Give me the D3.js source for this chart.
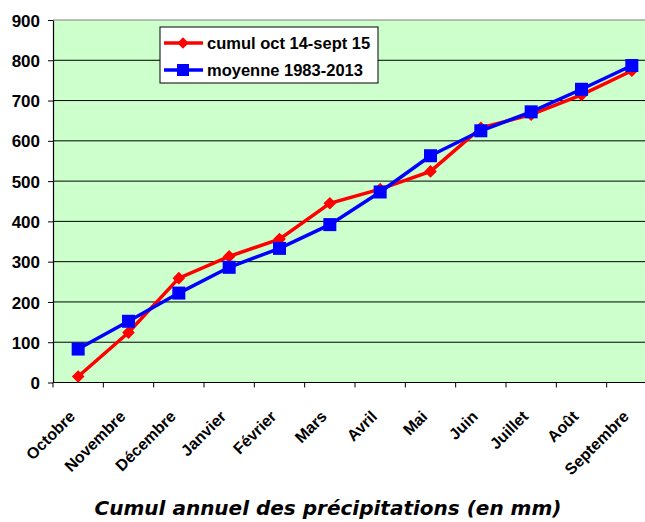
<!DOCTYPE html>
<html>
<head>
<meta charset="utf-8">
<script src="https://cdn.jsdelivr.net/npm/d3@7"></script>
<style>
  body { margin: 0; background: #fff; }
  svg { display: block; }
</style>
</head>
<body>
<div id="chart"></div>
<script>
// months of the hydrological year
const months = ["Octobre", "Novembre", "Décembre", "Janvier", "Février", "Mars",
  "Avril", "Mai", "Juin", "Juillet", "Août", "Septembre"];

// cumulative rainfall (mm)
const cumul = [15, 124, 259, 313, 356, 445, 480, 524, 632, 665, 714, 774];
const moyenne = [83, 152, 222, 286, 333, 392, 473, 563, 625, 672, 728, 787];

const yTicks = [0, 100, 200, 300, 400, 500, 600, 700, 800, 900];
const seriesNames = ["cumul oct 14-sept 15", "moyenne 1983-2013"];

const W = 645, H = 522;
const plot = { left: 53, right: 657, top: 20, bottom: 382.5 };
const labelFont = "'Liberation Sans', Arial, sans-serif";

const svg = d3.select("#chart").append("svg")
  .attr("width", W).attr("height", H);

const x = d3.scaleBand().domain(months).range([plot.left, plot.right]);
const y = d3.scaleLinear().domain([0, 900]).range([plot.bottom, plot.top]);

// plot background
svg.append("rect")
  .attr("x", plot.left).attr("y", plot.top)
  .attr("width", plot.right - plot.left).attr("height", plot.bottom - plot.top)
  .attr("fill", "#ccffcc");

// grid lines
svg.append("g")
  .selectAll("line")
  .data(yTicks.filter(d => d > 0 && d < 900))
  .join("line")
  .attr("x1", plot.left).attr("x2", plot.right)
  .attr("y1", d => y(d)).attr("y2", d => y(d))
  .attr("stroke", "#000").attr("stroke-width", 1);

// top border
svg.append("line")
  .attr("x1", plot.left).attr("x2", plot.right)
  .attr("y1", y(900)).attr("y2", y(900))
  .attr("stroke", "#808080").attr("stroke-width", 1.2);

// y axis
const yAxis = svg.append("g")
  .attr("transform", `translate(${plot.left},0)`)
  .call(d3.axisLeft(y).tickValues(yTicks).tickSize(5).tickSizeOuter(0));
yAxis.select(".domain").attr("stroke", "#000").attr("stroke-width", 1.2);
yAxis.selectAll(".tick line").attr("stroke", "#000");
yAxis.selectAll("text")
  .attr("font-family", labelFont)
  .attr("font-size", "17px").attr("font-weight", "bold")
  .attr("fill", "#000").attr("x", -13).attr("dy", "0.36em");

// x axis with ticks on band boundaries
const xAxis = svg.append("g")
  .attr("transform", `translate(0,${plot.bottom})`);
xAxis.append("line")
  .attr("x1", plot.left).attr("x2", plot.right)
  .attr("stroke", "#000").attr("stroke-width", 1.2);
xAxis.selectAll(".bt")
  .data(months)
  .join("line")
  .attr("class", "bt")
  .attr("x1", d => x(d)).attr("x2", d => x(d))
  .attr("y1", 0).attr("y2", 5)
  .attr("stroke", "#000");
xAxis.selectAll("text")
  .data(months)
  .join("text")
  .attr("transform", d => `translate(${x(d) + x.bandwidth() / 2 - 2},${35}) rotate(-45)`)
  .attr("text-anchor", "end")
  .attr("font-family", labelFont)
  .attr("font-size", "16px").attr("font-weight", "bold")
  .attr("fill", "#000")
  .text(d => d);

const cx = m => x(m) + x.bandwidth() / 2;
const line = d3.line().x((d, i) => cx(months[i])).y(d => y(d));

// red series
svg.append("path").datum(cumul)
  .attr("d", line).attr("fill", "none")
  .attr("stroke", "#ff0000").attr("stroke-width", 3.5);
svg.append("g").selectAll("path")
  .data(cumul)
  .join("path")
  .attr("d", d3.symbol().type(d3.symbolSquare).size(80))
  .attr("transform", (d, i) => `translate(${cx(months[i])},${y(d)}) rotate(45)`)
  .attr("fill", "#ff0000");

// blue series
svg.append("path").datum(moyenne)
  .attr("d", line).attr("fill", "none")
  .attr("stroke", "#0000ff").attr("stroke-width", 3.5);
svg.append("g").selectAll("rect")
  .data(moyenne)
  .join("rect")
  .attr("x", (d, i) => cx(months[i]) - 6.5)
  .attr("y", d => y(d) - 6.5)
  .attr("width", 13).attr("height", 13)
  .attr("fill", "#0000ff");

// legend
const lg = svg.append("g").attr("transform", "translate(160,27)");
lg.append("rect")
  .attr("width", 218).attr("height", 56)
  .attr("fill", "#fff").attr("stroke", "#000").attr("stroke-width", 1);
const rows = lg.selectAll("g")
  .data(seriesNames)
  .join("g")
  .attr("transform", (d, i) => `translate(0,${16 + i * 27})`);
rows.append("line")
  .attr("x1", 4).attr("x2", 43)
  .attr("stroke", (d, i) => i === 0 ? "#ff0000" : "#0000ff")
  .attr("stroke-width", 3.5);
rows.filter((d, i) => i === 0).append("path")
  .attr("d", d3.symbol().type(d3.symbolSquare).size(64))
  .attr("transform", "translate(23,0) rotate(45)")
  .attr("fill", "#ff0000");
rows.filter((d, i) => i === 1).append("rect")
  .attr("x", 17).attr("y", -6).attr("width", 12).attr("height", 12)
  .attr("fill", "#0000ff");
rows.append("text")
  .attr("x", 47).attr("dy", "0.36em")
  .attr("font-family", labelFont)
  .attr("font-size", "16.5px").attr("font-weight", "bold")
  .attr("fill", "#000")
  .text(d => d);

// title below
svg.append("text")
  .attr("x", 328).attr("y", 515)
  .attr("text-anchor", "middle")
  .attr("font-family", "'DejaVu Sans', sans-serif")
  .attr("font-size", "20px").attr("font-weight", "bold").attr("font-style", "italic")
  .attr("fill", "#000")
  .text("Cumul annuel des précipitations (en mm)");
</script>
</body>
</html>
